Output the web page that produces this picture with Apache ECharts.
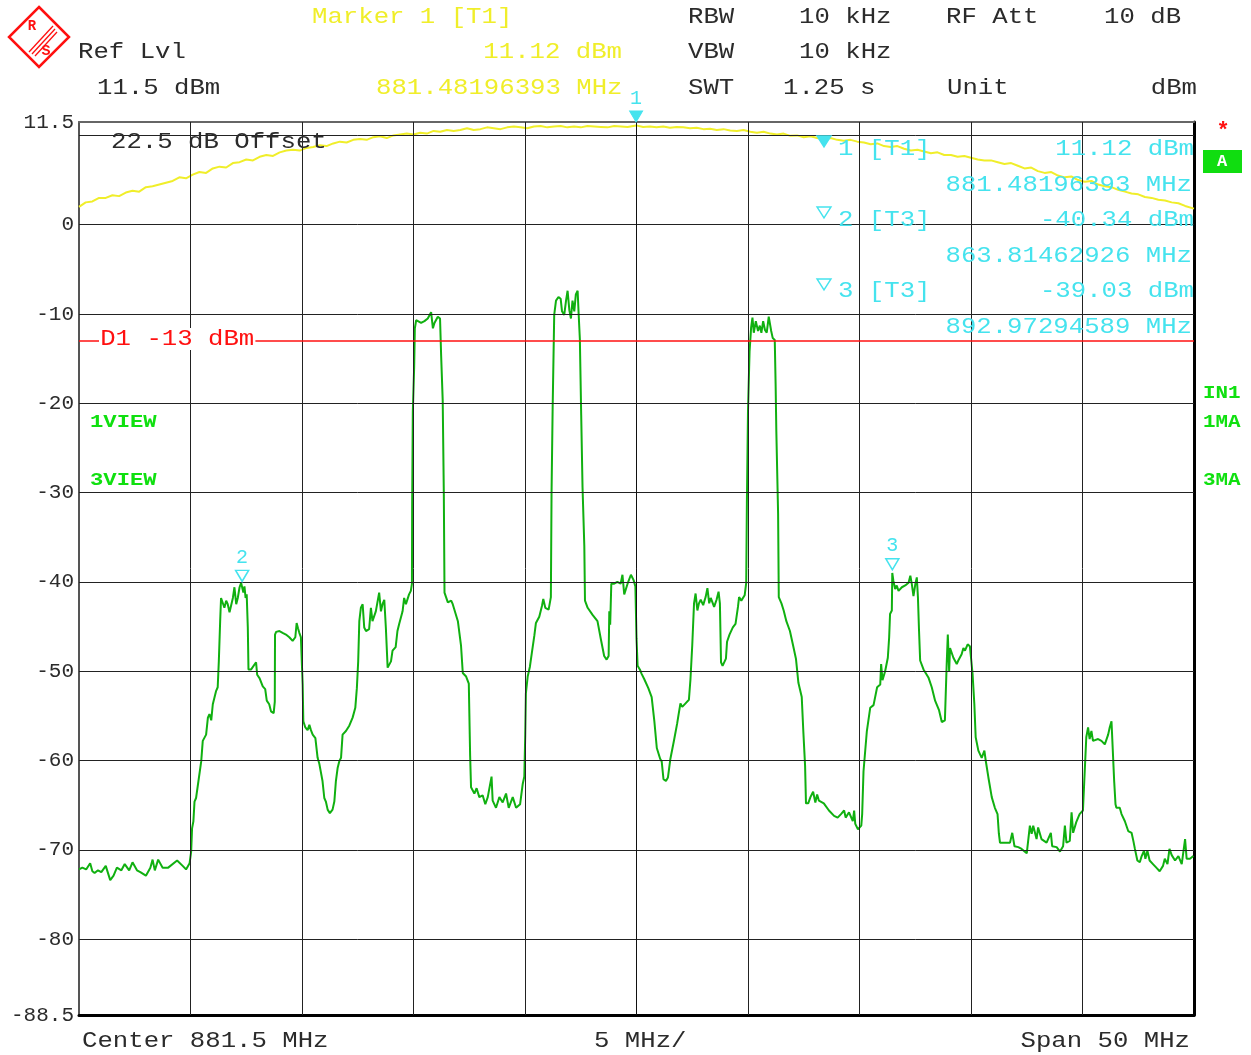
<!DOCTYPE html>
<html>
<head>
<meta charset="utf-8">
<script src="https://cdn.jsdelivr.net/npm/echarts@6/dist/echarts.min.js"></script>
<style>
html,body{margin:0;padding:0;background:#fff;}
#chart{width:1251px;height:1055px;}
</style>
</head>
<body>
<div id="chart"></div>
<script>
// ---- data (frequency in MHz, level in dBm) ----
const greenTrace = [
[856.50,-72.2],[856.65,-72.0],[856.82,-72.2],[857.00,-71.5],[857.10,-72.4],[857.20,-72.6],[857.35,-72.3],[857.50,-72.5],
[857.70,-71.8],[857.90,-73.4],[858.05,-72.9],[858.20,-72.0],[858.40,-72.3],[858.55,-71.6],[858.75,-72.3],[858.90,-71.4],
[859.10,-72.3],[859.25,-72.5],[859.50,-72.9],[859.70,-72.0],[859.80,-71.1],[859.90,-72.3],[860.05,-71.1],[860.25,-72.0],
[860.50,-72.0],[860.90,-71.2],[861.15,-71.8],[861.30,-72.2],[861.46,-71.5],[861.53,-70.2],[861.57,-67.6],[861.63,-66.8],
[861.68,-64.6],[861.75,-64.2],[861.98,-60.1],[862.05,-57.8],[862.20,-57.1],[862.28,-55.2],[862.35,-54.8],[862.43,-55.5],
[862.50,-53.7],[862.65,-52.2],[862.72,-51.8],[862.77,-48.9],[862.83,-44.4],[862.87,-41.8],[862.95,-41.6],[863.02,-42.9],
[863.10,-42.1],[863.17,-42.5],[863.25,-43.4],[863.32,-43.6],[863.40,-41.8],[863.47,-40.6],[863.55,-42.5],[863.62,-41.8],
[863.70,-40.6],[863.77,-40.1],[863.81,-40.3],[863.87,-41.2],[863.92,-40.5],[863.97,-41.8],[864.02,-41.4],[864.07,-45.1],
[864.10,-49.8],[864.22,-49.8],[864.30,-49.6],[864.44,-49.0],[864.49,-50.4],[864.60,-50.8],[864.74,-51.7],[864.85,-52.0],
[864.92,-53.3],[865.03,-53.7],[865.11,-54.5],[865.23,-54.7],[865.28,-53.4],[865.29,-45.9],[865.34,-45.6],[865.42,-45.7],
[865.49,-45.5],[865.56,-45.3],[865.63,-45.7],[865.78,-45.9],[865.93,-46.2],[866.08,-46.6],[866.20,-46.2],[866.26,-44.6],
[866.32,-45.2],[866.38,-45.7],[866.45,-46.2],[866.53,-51.5],[866.56,-55.6],[866.65,-56.3],[866.75,-56.6],[866.83,-56.0],
[866.90,-56.6],[866.98,-57.1],[867.10,-57.5],[867.20,-59.7],[867.28,-60.4],[867.42,-62.3],[867.50,-64.2],[867.57,-64.6],
[867.65,-65.5],[867.75,-65.9],[867.87,-65.5],[867.95,-64.6],[868.02,-62.3],[868.10,-60.8],[868.17,-60.1],[868.25,-59.7],
[868.32,-57.1],[868.47,-56.7],[868.62,-56.1],[868.77,-55.2],[868.89,-54.1],[868.96,-51.9],[869.02,-48.9],[869.07,-44.4],
[869.14,-42.9],[869.22,-42.5],[869.29,-45.1],[869.37,-45.5],[869.51,-45.3],[869.59,-42.9],[869.66,-44.4],[869.81,-43.3],
[869.96,-41.2],[870.04,-43.3],[870.11,-42.5],[870.19,-42.0],[870.26,-45.1],[870.34,-49.6],[870.41,-49.8],[870.49,-48.9],
[870.56,-47.7],[870.70,-47.3],[870.78,-45.5],[870.86,-44.7],[871.01,-43.3],[871.08,-41.8],[871.16,-42.5],[871.30,-41.4],
[871.38,-41.0],[871.43,-40.2],[871.44,-31.3],[871.47,-20.9],[871.53,-15.9],[871.56,-11.6],[871.62,-10.7],[871.70,-10.5],
[871.84,-11.0],[871.99,-10.8],[872.14,-10.5],[872.29,-9.8],[872.37,-11.6],[872.44,-11.0],[872.51,-10.8],[872.59,-10.3],
[872.69,-10.5],[872.74,-14.7],[872.81,-19.7],[872.86,-30.2],[872.89,-41.2],[873.04,-42.3],[873.19,-42.1],[873.26,-42.5],
[873.34,-42.7],[873.49,-44.4],[873.63,-47.1],[873.71,-50.2],[873.86,-50.6],[873.93,-50.4],[873.98,-51.4],[874.04,-59.5],
[874.08,-63.0],[874.23,-63.7],[874.33,-63.1],[874.45,-64.1],[874.60,-63.9],[874.72,-64.9],[874.83,-64.1],[875.00,-61.8],
[875.05,-64.5],[875.20,-65.3],[875.35,-64.1],[875.50,-64.7],[875.65,-63.7],[875.77,-65.3],[875.95,-64.1],[876.10,-65.3],
[876.28,-64.9],[876.40,-62.6],[876.47,-61.8],[876.51,-57.2],[876.54,-52.5],[876.62,-50.6],[876.72,-49.5],[876.81,-47.9],
[876.92,-46.0],[876.99,-44.6],[877.14,-43.9],[877.26,-42.7],[877.32,-41.9],[877.41,-42.9],[877.56,-43.1],[877.66,-41.7],
[877.69,-30.2],[877.74,-20.5],[877.81,-10.1],[877.89,-8.5],[878.00,-8.1],[878.10,-8.3],[878.16,-9.7],[878.26,-10.1],
[878.34,-8.5],[878.41,-7.4],[878.49,-9.6],[878.56,-10.5],[878.63,-8.5],[878.71,-9.7],[878.78,-7.8],[878.86,-7.4],
[878.90,-9.7],[878.96,-12.8],[879.02,-21.3],[879.08,-29.4],[879.16,-36.0],[879.19,-42.1],[879.31,-42.9],[879.53,-43.7],
[879.75,-44.4],[879.90,-46.4],[880.05,-48.3],[880.16,-48.7],[880.25,-48.3],[880.28,-43.3],[880.32,-44.8],[880.37,-40.2],
[880.43,-40.0],[880.50,-40.2],[880.64,-40.0],[880.79,-40.2],[880.87,-39.2],[880.95,-41.4],[881.10,-40.2],[881.25,-39.2],
[881.30,-39.2],[881.37,-39.8],[881.45,-40.5],[881.50,-46.3],[881.55,-49.4],[881.65,-49.8],[881.73,-50.3],[881.85,-50.9],
[882.03,-51.9],[882.18,-52.9],[882.30,-55.6],[882.41,-58.6],[882.56,-59.8],[882.63,-60.1],[882.71,-62.1],[882.82,-62.3],
[882.91,-61.9],[883.02,-59.8],[883.17,-57.9],[883.32,-55.9],[883.39,-54.8],[883.47,-53.6],[883.55,-54.0],[883.70,-53.6],
[883.85,-53.2],[883.92,-50.9],[884.00,-47.1],[884.08,-42.4],[884.15,-41.3],[884.23,-43.2],[884.30,-42.4],[884.38,-42.0],
[884.49,-42.6],[884.60,-41.7],[884.68,-40.7],[884.76,-42.4],[884.83,-41.8],[884.98,-42.8],[885.09,-42.0],[885.18,-41.1],
[885.24,-42.4],[885.29,-49.0],[885.36,-49.4],[885.43,-49.2],[885.51,-48.6],[885.56,-46.7],[885.67,-45.9],[885.82,-45.1],
[885.94,-44.7],[886.05,-42.8],[886.10,-41.7],[886.20,-42.1],[886.35,-41.5],[886.42,-40.1],[886.45,-31.2],[886.50,-20.8],
[886.57,-14.2],[886.64,-11.5],[886.70,-10.4],[886.76,-12.1],[886.85,-10.8],[886.95,-11.9],[887.03,-11.3],[887.10,-12.1],
[887.18,-10.8],[887.26,-11.8],[887.34,-12.1],[887.43,-10.3],[887.54,-11.9],[887.61,-12.7],[887.70,-12.9],[887.74,-18.1],
[887.77,-23.1],[887.85,-32.4],[887.88,-41.7],[888.00,-42.4],[888.10,-43.2],[888.22,-44.4],[888.38,-45.5],[888.52,-47.1],
[888.65,-48.6],[888.76,-51.3],[888.91,-52.9],[888.98,-56.7],[889.06,-60.6],[889.10,-64.8],[889.20,-64.8],[889.30,-64.1],
[889.42,-63.5],[889.52,-64.7],[889.60,-63.8],[889.68,-64.5],[889.90,-64.8],[890.13,-65.6],[890.36,-66.2],[890.52,-66.4],
[890.67,-66.0],[890.81,-65.6],[890.88,-66.4],[891.03,-65.8],[891.20,-66.8],[891.26,-65.6],[891.31,-67.1],[891.43,-67.7],
[891.58,-67.3],[891.62,-66.0],[891.68,-61.2],[891.83,-56.7],[891.98,-54.1],[892.13,-53.8],[892.29,-51.8],[892.43,-51.5],
[892.47,-49.2],[892.53,-51.0],[892.65,-50.0],[892.77,-48.5],[892.83,-46.2],[892.87,-43.6],[892.95,-43.2],[892.97,-39.0],
[893.02,-39.9],[893.10,-40.8],[893.17,-40.4],[893.25,-41.0],[893.40,-40.6],[893.55,-40.4],[893.70,-40.1],[893.78,-39.3],
[893.85,-40.3],[893.92,-41.6],[894.00,-40.3],[894.07,-39.5],[894.12,-41.7],[894.17,-45.5],[894.22,-48.8],[894.37,-49.8],
[894.59,-50.7],[894.74,-51.8],[894.89,-53.3],[895.07,-54.4],[895.19,-55.7],[895.26,-55.9],[895.33,-55.5],[895.41,-49.2],
[895.46,-45.9],[895.52,-50.0],[895.56,-47.4],[895.64,-47.4],[895.71,-48.5],[895.86,-49.2],[895.93,-48.8],[896.08,-48.1],
[896.16,-47.4],[896.23,-47.7],[896.35,-47.0],[896.45,-47.2],[896.53,-47.4],[896.57,-50.3],[896.65,-53.7],[896.71,-57.4],
[896.83,-58.9],[896.98,-59.7],[897.10,-58.9],[897.16,-60.0],[897.28,-61.9],[897.43,-64.1],[897.57,-65.3],[897.69,-66.0],
[897.75,-68.2],[897.80,-69.2],[897.95,-69.2],[898.25,-69.2],[898.35,-68.1],[898.45,-69.6],[898.62,-69.7],[898.77,-69.9],
[899.00,-70.4],[899.14,-67.3],[899.22,-68.2],[899.29,-67.3],[899.44,-68.8],[899.51,-67.5],[899.66,-68.8],[899.89,-69.2],
[900.08,-68.1],[900.14,-69.6],[900.34,-69.7],[900.49,-70.2],[900.63,-69.6],[900.71,-67.3],[900.78,-69.2],[900.93,-69.0],
[901.01,-65.8],[901.08,-68.1],[901.22,-66.9],[901.37,-66.0],[901.52,-65.6],[901.60,-61.2],[901.67,-57.4],[901.75,-56.3],
[901.82,-57.6],[901.90,-56.7],[901.97,-57.8],[902.05,-57.8],[902.20,-57.6],[902.35,-57.8],[902.50,-58.2],[902.65,-57.1],
[902.72,-56.3],[902.80,-55.6],[902.87,-55.6],[902.92,-62.3],[902.98,-64.9],[903.02,-65.3],[903.17,-65.3],[903.25,-66.0],
[903.40,-66.8],[903.55,-67.9],[903.70,-68.1],[903.78,-69.0],[903.85,-69.9],[903.96,-71.2],[904.07,-71.4],[904.14,-70.8],
[904.26,-70.1],[904.32,-71.0],[904.41,-70.1],[904.51,-71.2],[904.66,-71.6],[904.81,-72.0],[904.96,-72.4],[905.11,-71.8],
[905.19,-71.0],[905.31,-71.6],[905.40,-69.9],[905.50,-70.6],[905.65,-71.2],[905.80,-70.7],[905.95,-71.6],[906.10,-68.8],
[906.17,-71.0],[906.32,-71.0],[906.47,-70.7]
];

const yellowTrace = [
[856.5,2.0],[856.8,2.5],[857.1,2.6],[857.4,3.0],[857.7,3.0],[858.0,3.3],[858.3,3.2],[858.6,3.6],[858.9,3.8],[859.2,3.7],
[859.5,4.2],[859.8,4.3],[860.1,4.5],[860.4,4.7],[860.7,4.9],[861.0,5.3],[861.3,5.2],[861.6,5.6],[861.9,5.9],[862.2,5.8],
[862.5,6.3],[862.8,6.5],[863.1,6.4],[863.4,6.9],[863.7,7.0],[864.0,7.3],[864.3,7.2],[864.6,7.6],[864.9,7.8],[865.2,7.7],
[865.5,8.1],[865.8,8.3],[866.1,8.4],[866.4,8.3],[866.7,8.6],[867.0,8.7],[867.3,8.9],[867.6,8.8],[867.9,9.1],[868.2,9.3],
[868.5,9.2],[868.8,9.5],[869.1,9.6],[869.4,9.5],[869.7,9.8],[870.0,9.9],[870.3,9.7],[870.6,10.0],[870.9,10.1],[871.2,10.2],
[871.5,10.1],[871.8,10.3],[872.1,10.2],[872.4,10.5],[872.7,10.4],[873.0,10.6],[873.3,10.5],[873.6,10.6],[873.9,10.8],[874.2,10.6],
[874.5,10.7],[874.8,10.9],[875.1,10.8],[875.4,10.7],[875.7,10.9],[876.0,11.0],[876.3,10.9],[876.6,10.8],[876.9,11.0],[877.2,11.05],
[877.5,10.9],[877.8,11.0],[878.1,11.05],[878.4,10.9],[878.7,11.0],[879.0,10.9],[879.3,11.05],[879.6,11.0],[879.9,10.95],[880.2,10.9],
[880.5,11.05],[880.8,11.0],[881.1,10.95],[881.48,11.12],[881.8,10.95],[882.1,11.0],[882.4,10.9],[882.7,11.0],[883.0,10.85],[883.3,10.95],
[883.6,10.9],[883.9,10.8],[884.2,10.85],[884.5,10.7],[884.8,10.75],[885.1,10.6],[885.4,10.7],[885.7,10.55],[886.0,10.5],[886.3,10.6],
[886.6,10.4],[886.9,10.3],[887.2,10.4],[887.5,10.2],[887.8,10.1],[888.1,10.2],[888.4,9.95],[888.7,10.0],[889.0,9.8],[889.3,9.9],
[889.6,9.7],[889.9,9.6],[890.2,9.7],[890.5,9.5],[890.8,9.4],[891.1,9.5],[891.4,9.3],[891.7,9.2],[892.0,9.0],[892.3,9.1],
[892.6,8.8],[892.9,8.7],[893.2,8.8],[893.5,8.5],[893.8,8.3],[894.1,8.4],[894.4,8.2],[894.7,8.0],[895.0,8.1],[895.3,7.8],
[895.6,7.8],[895.9,7.6],[896.2,7.7],[896.5,7.5],[896.8,7.3],[897.1,7.2],[897.4,7.2],[897.7,7.0],[898.0,6.8],[898.3,6.9],
[898.6,6.6],[898.9,6.3],[899.2,6.4],[899.5,6.0],[899.8,5.8],[900.1,5.9],[900.4,5.5],[900.7,5.3],[901.0,5.4],[901.3,5.0],
[901.6,4.8],[901.9,4.9],[902.2,4.5],[902.5,4.3],[902.8,4.2],[903.1,3.9],[903.4,3.7],[903.7,3.5],[904.0,3.4],[904.3,3.1],
[904.6,3.0],[904.9,2.8],[905.2,2.7],[905.5,2.5],[905.8,2.4],[906.1,2.1],[906.5,1.8]
];

const freqGridLines = [861.5, 866.5, 871.5, 876.5, 881.5, 886.5, 891.5, 896.5, 901.5];
const levelGridLines = [10, 0, -10, -20, -30, -40, -50, -60, -70, -80];
const yTickLabels = [11.5, 0, -10, -20, -30, -40, -50, -60, -70, -80, -88.5];
const displayLine = -13;
// markers: [label, frequency MHz, level dBm, filled]
const markers = [
  ['1', 881.48196393, 11.12, true],
  ['2', 863.81462926, -40.34, false],
  ['3', 892.97294589, -39.03, false]
];

// ---- styling ----
const MONO = '"Liberation Mono", "DejaVu Sans Mono", monospace';
const CYAN = '#45e3ee';
const YEL = '#f0ee2a';
const GREEN = '#10b010';
const RED = '#ff1010';
const INK = '#2b2b2b';
const SX = 1.167;

function txt(x, y, s, color, o) {
  o = o || {};
  const size = o.size || 22;
  const weight = o.bold ? 'bold ' : '';
  return {
    type: 'text', x: x, y: y, scaleX: o.sx || SX, z: 100,
    style: {
      text: s, fill: color, font: weight + size + 'px ' + MONO,
      align: o.align || 'left', verticalAlign: 'middle',
      textAlign: o.align || 'left', textVerticalAlign: 'middle',
      backgroundColor: o.bg, padding: o.pad
    }
  };
}
function tri(x, yTop, filled) {
  return {
    type: 'polygon', z: 100,
    shape: { points: [[x - 7, yTop], [x + 7, yTop], [x, yTop + 11]] },
    style: { fill: filled ? CYAN : 'none', stroke: CYAN, lineWidth: 1.4 }
  };
}

const graphics = [
  // R&S logo
  { type: 'polygon', shape: { points: [[39, 7], [69, 37], [39, 67], [9, 37]] }, style: { fill: '#fff', stroke: RED, lineWidth: 2.5 } },
  { type: 'line', shape: { x1: 29, y1: 52, x2: 53, y2: 26 }, style: { stroke: RED, lineWidth: 1.3 } },
  { type: 'line', shape: { x1: 32, y1: 54, x2: 55, y2: 29 }, style: { stroke: RED, lineWidth: 1.3 } },
  { type: 'line', shape: { x1: 35, y1: 56, x2: 57, y2: 32 }, style: { stroke: RED, lineWidth: 1.3 } },
  { type: 'text', x: 32, y: 26, style: { text: 'R', fill: RED, font: 'bold 14px ' + MONO, align: 'center', verticalAlign: 'middle', textAlign: 'center', textVerticalAlign: 'middle' } },
  { type: 'text', x: 46, y: 51, style: { text: 'S', fill: RED, font: 'bold 15px ' + MONO, align: 'center', verticalAlign: 'middle', textAlign: 'center', textVerticalAlign: 'middle' } },

  // header
  txt(312, 17, 'Marker 1 [T1]', YEL),
  txt(622, 52, '11.12 dBm', YEL, { align: 'right' }),
  txt(376, 88, '881.48196393 MHz', YEL),
  txt(78, 52, 'Ref Lvl', INK),
  txt(97, 88, '11.5 dBm', INK),
  txt(688, 17, 'RBW', INK),
  txt(799, 17, '10 kHz', INK),
  txt(946, 17, 'RF Att', INK),
  txt(1104, 17, '10 dB', INK),
  txt(688, 52, 'VBW', INK),
  txt(799, 52, '10 kHz', INK),
  txt(688, 88, 'SWT', INK),
  txt(783, 88, '1.25 s', INK),
  txt(947, 88, 'Unit', INK),
  txt(1197, 88, 'dBm', INK, { align: 'right' }),

  // in-plot annotations
  txt(111, 142, '22.5 dB Offset', INK),
  txt(99, 339, 'D1 -13 dBm', RED, { bg: '#fff', pad: [0, 1, 0, 1] }),

  tri(824, 136, true),
  txt(838, 149, '1 [T1]', CYAN),
  txt(1194, 149, '11.12 dBm', CYAN, { align: 'right' }),
  txt(1192, 185, '881.48196393 MHz', CYAN, { align: 'right' }),
  tri(824, 207, false),
  txt(838, 220, '2 [T3]', CYAN),
  txt(1194, 220, '-40.34 dBm', CYAN, { align: 'right' }),
  txt(1192, 256, '863.81462926 MHz', CYAN, { align: 'right' }),
  tri(824, 279, false),
  txt(838, 291, '3 [T3]', CYAN),
  txt(1194, 291, '-39.03 dBm', CYAN, { align: 'right' }),
  txt(1192, 327, '892.97294589 MHz', CYAN, { align: 'right' }),

  txt(90, 422, '1VIEW', '#10e010', { bold: true, size: 19, sx: 1.17 }),
  txt(90, 480, '3VIEW', '#10e010', { bold: true, size: 19, sx: 1.17 }),

  // right side
  { type: 'text', x: 1223, y: 131, style: { text: '*', fill: RED, font: 'bold 22px ' + MONO, align: 'center', verticalAlign: 'middle', textAlign: 'center', textVerticalAlign: 'middle' } },
  { type: 'rect', shape: { x: 1203, y: 150, width: 39, height: 23 }, style: { fill: '#10dd10' } },
  { type: 'text', x: 1222, y: 162, z: 101, style: { text: 'A', fill: '#fff', font: 'bold 17px ' + MONO, align: 'center', verticalAlign: 'middle', textAlign: 'center', textVerticalAlign: 'middle' } },
  txt(1203, 393, 'IN1', '#10e010', { bold: true, size: 19, sx: 1.1 }),
  txt(1203, 422, '1MA', '#10e010', { bold: true, size: 19, sx: 1.1 }),
  txt(1203, 480, '3MA', '#10e010', { bold: true, size: 19, sx: 1.1 }),

  // footer
  txt(82, 1041, 'Center 881.5 MHz', INK),
  txt(594, 1041, '5 MHz/', INK),
  txt(1190, 1041, 'Span 50 MHz', INK, { align: 'right' })
];

const tipPath = 'path://M0,0 L12,0 L6,11 Z';
function markerPoint(m) {
  return {
    coord: [m[1], m[2]], value: m[0],
    itemStyle: m[3] ? { color: CYAN, borderColor: CYAN, borderWidth: 1 } : { color: 'rgba(255,255,255,0)', borderColor: CYAN, borderWidth: 1.5 }
  };
}

const option = {
  animation: false,
  backgroundColor: '#fff',
  grid: { left: 79, top: 122, width: 1115, height: 893, show: false },
  xAxis: [
    { type: 'value', min: 856.5, max: 906.5, position: 'bottom',
      axisLine: { show: true, onZero: false, lineStyle: { color: '#000', width: 3 } },
      axisTick: { show: false }, axisLabel: { show: false }, splitLine: { show: false } },
    { type: 'value', min: 856.5, max: 906.5, position: 'top',
      axisLine: { show: true, onZero: false, lineStyle: { color: '#666', width: 2 } },
      axisTick: { show: false }, axisLabel: { show: false }, splitLine: { show: false } }
  ],
  yAxis: [
    { type: 'value', min: -88.5, max: 11.5, position: 'left',
      axisLine: { show: true, onZero: false, lineStyle: { color: '#555', width: 2 } },
      axisTick: { show: false }, splitLine: { show: false },
      axisLabel: { customValues: yTickLabels, fontFamily: MONO, fontSize: 21, color: INK, margin: 5,
                   showMinLabel: true, showMaxLabel: true } },
    { type: 'value', min: -88.5, max: 11.5, position: 'right',
      axisLine: { show: true, onZero: false, lineStyle: { color: '#000', width: 3 } },
      axisTick: { show: false }, axisLabel: { show: false }, splitLine: { show: false } }
  ],
  graphic: graphics,
  series: [
    {
      name: 'grid', type: 'line', data: [[856.5, -200]], symbol: 'none', silent: true, z: 1,
      lineStyle: { width: 0 },
      markLine: {
        silent: true, symbol: 'none', animation: false, label: { show: false },
        lineStyle: { color: '#222', width: 1, type: 'solid' },
        data: freqGridLines.map(v => ({ xAxis: v })).concat(levelGridLines.map(v => ({ yAxis: v })))
          .concat([{ xAxis: markers[0][1], lineStyle: { color: '#111', width: 1 } }])
      }
    },
    {
      name: 'limit', type: 'line', data: [[856.5, -200]], symbol: 'none', silent: true, z: 2,
      lineStyle: { width: 0 },
      markLine: {
        silent: true, symbol: 'none', animation: false, label: { show: false },
        lineStyle: { color: RED, width: 1.6, type: 'solid', opacity: 1 },
        data: [{ yAxis: displayLine }]
      }
    },
    {
      name: 'Trace 1', type: 'line', data: yellowTrace, symbol: 'none', z: 3,
      lineStyle: { color: YEL, width: 2 },
      markPoint: {
        symbol: tipPath, symbolSize: [13, 11], symbolOffset: [0, -9], silent: true, animation: false,
        label: { show: true, position: 'top', distance: 2, color: CYAN, fontFamily: MONO, fontSize: 20, formatter: '{c}' },
        data: [markerPoint(markers[0])]
      }
    },
    {
      name: 'Trace 3', type: 'line', data: greenTrace, symbol: 'none', z: 4,
      lineStyle: { color: GREEN, width: 2 },
      markPoint: {
        symbol: tipPath, symbolSize: [13, 11], symbolOffset: [0, -9], silent: true, animation: false,
        label: { show: true, position: 'top', distance: 2, color: CYAN, fontFamily: MONO, fontSize: 20, formatter: '{c}' },
        data: [markerPoint(markers[1]), markerPoint(markers[2])]
      }
    }
  ]
};

const chart = echarts.init(document.getElementById('chart'), null, { renderer: 'canvas' });
chart.setOption(option);
</script>
</body>
</html>
